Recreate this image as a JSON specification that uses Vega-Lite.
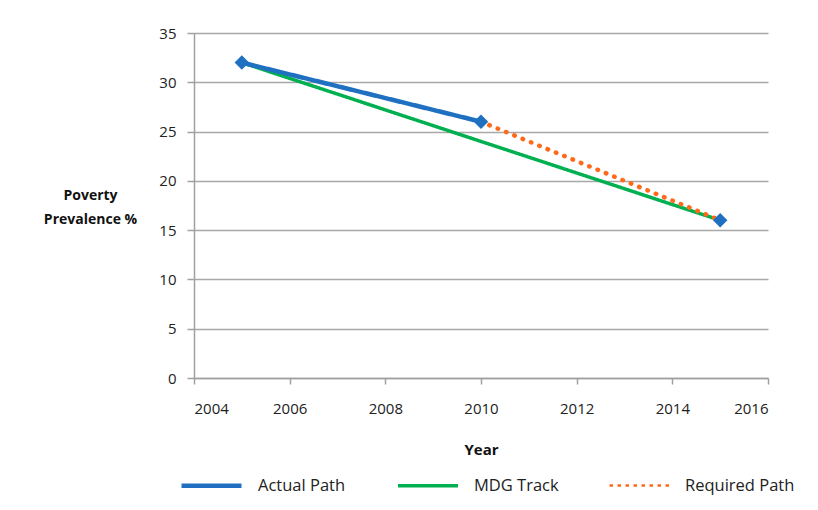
{
  "$schema": "https://vega.github.io/schema/vega-lite/v6.json",
  "width": 574,
  "height": 345,
  "autosize": {"type": "none"},
  "padding": {"left": 194, "top": 33, "right": 50, "bottom": 132},
  "background": "white",
  "config": {
    "font": "Open Sans",
    "view": {"stroke": null},
    "axis": {
      "labelFont": "Open Sans",
      "labelFontSize": 15,
      "labelColor": "#222222",
      "titleFont": "Open Sans",
      "titleFontWeight": "bold",
      "titleFontSize": 15,
      "titleColor": "#111111",
      "domainColor": "#a0a0a0",
      "tickColor": "#a0a0a0",
      "gridColor": "#a8a8a8",
      "domainWidth": 1.5,
      "tickWidth": 1.5,
      "gridWidth": 1.5
    },
    "legend": {"labelFont": "Open Sans", "labelFontSize": 16.5, "labelColor": "#222222"}
  },
  "datasets": {
    "lines": [
      {"series": "Actual Path", "year": 2005, "value": 32},
      {"series": "Actual Path", "year": 2010, "value": 26},
      {"series": "MDG Track", "year": 2005, "value": 32},
      {"series": "MDG Track", "year": 2015, "value": 16},
      {"series": "Required Path", "year": 2010, "value": 26},
      {"series": "Required Path", "year": 2015, "value": 16}
    ],
    "points": [
      {"year": 2005, "value": 32},
      {"year": 2010, "value": 26},
      {"year": 2015, "value": 16}
    ]
  },
  "encoding": {
    "x": {
      "field": "year",
      "type": "quantitative",
      "scale": {"domain": [2004, 2016], "nice": false, "zero": false},
      "axis": {
        "values": [2004, 2006, 2008, 2010, 2012, 2014, 2016],
        "format": "d",
        "grid": false,
        "tickSize": 6,
        "labelPadding": 17,
        "title": "Year",
        "titleY": 71,
        "titleBaseline": "middle"
      }
    },
    "y": {
      "field": "value",
      "type": "quantitative",
      "scale": {"domain": [0, 35], "nice": false},
      "axis": {
        "values": [0, 5, 10, 15, 20, 25, 30, 35],
        "grid": true,
        "tickSize": 7,
        "labelPadding": 11,
        "title": ["Poverty", "Prevalence %"],
        "titleAngle": 0,
        "titleAlign": "center",
        "titleBaseline": "middle",
        "titleFontSize": 14,
        "titleX": -104,
        "titleY": 162,
        "titleLineHeight": 24
      }
    }
  },
  "layer": [
    {
      "data": {"name": "lines"},
      "transform": [{"filter": "datum.series == 'MDG Track'"}],
      "mark": {"type": "line", "strokeCap": "butt"},
      "encoding": {
        "color": {"field": "series", "type": "nominal", "scale": {"domain": ["Actual Path", "MDG Track", "Required Path"], "range": ["#1F70C1", "#00B050", "#FF6A1A"]}, "legend": {"title": null, "orient": "none", "legendX": -15, "legendY": 420, "direction": "horizontal", "symbolType": "stroke", "symbolSize": 3600, "labelOffset": 14, "columnPadding": 45, "padding": 0}},
        "strokeDash": {"field": "series", "type": "nominal", "scale": {"domain": ["Actual Path", "MDG Track", "Required Path"], "range": [[1, 0], [1, 0], [3.5, 4.5]]}, "legend": {"title": null}},
        "strokeWidth": {"field": "series", "type": "nominal", "scale": {"domain": ["Actual Path", "MDG Track", "Required Path"], "range": [4.5, 2.5, 3.5]}, "legend": {"title": null}}
      }
    },
    {
      "data": {"name": "lines"},
      "transform": [{"filter": "datum.series == 'Required Path'"}],
      "mark": {"type": "line", "strokeCap": "round", "strokeDash": [0.5, 8.5], "strokeWidth": 4.5},
      "encoding": {
        "color": {"field": "series", "type": "nominal"}
      }
    },
    {
      "data": {"name": "lines"},
      "transform": [{"filter": "datum.series == 'Actual Path'"}],
      "mark": {"type": "line", "strokeCap": "butt"},
      "encoding": {
        "color": {"field": "series", "type": "nominal"},
        "strokeDash": {"field": "series", "type": "nominal"},
        "strokeWidth": {"field": "series", "type": "nominal"}
      }
    },
    {
      "data": {"name": "points"},
      "mark": {"type": "point", "shape": "diamond", "filled": true, "opacity": 1, "size": 210, "color": "#1F70C1"}
    }
  ]
}
